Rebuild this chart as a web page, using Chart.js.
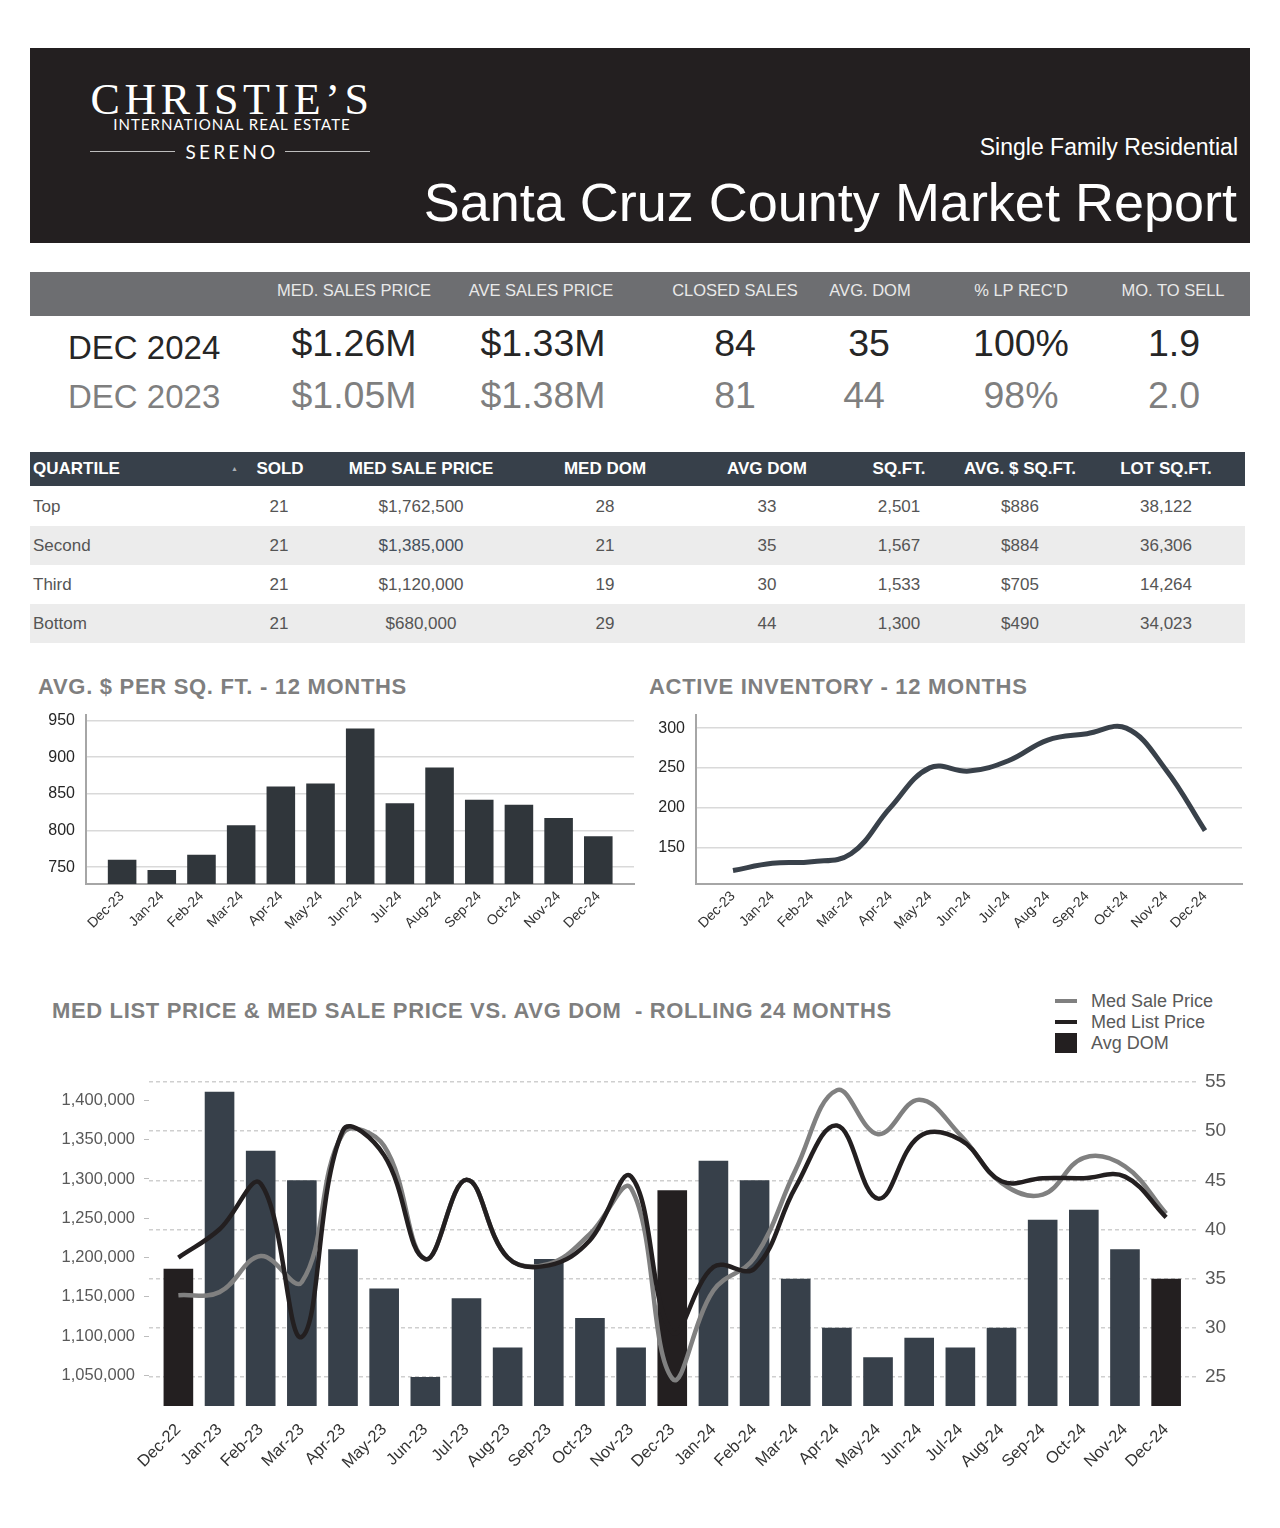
<!DOCTYPE html>
<html lang="en">
<head>
<meta charset="utf-8">
<title>Santa Cruz County Market Report - Dec 2024</title>
<script src="https://cdn.jsdelivr.net/npm/chart.js@4.4.1/dist/chart.umd.min.js"></script>
<style>
  body { margin: 0; width: 1280px; height: 1528px; position: relative; background: #fff;
         font-family: 'Liberation Sans', Arial, sans-serif; overflow: hidden; }
  .t { position: absolute; white-space: nowrap; }
  .c { position: absolute; white-space: nowrap; width: 400px; margin-left: -200px; text-align: center; }
  #header { position: absolute; left: 30px; top: 48px; width: 1220px; height: 195px; background: #231f20; }
  .logo { color: #fff; }
  .rule { position: absolute; height: 1px; background: #bdbdbd; top: 151px; width: 85px; }
  #band1 { position: absolute; left: 30px; top: 272px; width: 1220px; height: 44px; background: #6d6e71; }
  .h1 { font-size: 16.5px; line-height: 16px; color: #e9e9e9; top: 282px; }
  .r1 { font-size: 37.5px; line-height: 36px; color: #262626; top: 325px; }
  .r2 { font-size: 37.5px; line-height: 36px; color: #7f7f7f; top: 377px; }
  #band2 { position: absolute; left: 30px; top: 452px; width: 1215px; height: 34px; background: #37404a; }
  .qh { font-size: 17px; line-height: 17px; font-weight: bold; color: #fff; top: 460px; }
  .qrow { position: absolute; left: 30px; width: 1215px; height: 39px; }
  .qc { font-size: 17px; line-height: 17px; color: #555; }
  .ctitle { font-size: 22px; line-height: 22px; font-weight: bold; color: #7f7f7f; letter-spacing: 0.7px; }
  .lg { font-size: 18px; line-height: 18px; color: #595959; left: 1091px; }
  .sw { position: absolute; left: 1055px; width: 22px; }
  canvas { position: absolute; }
</style>
</head>
<body>

<!-- header -->
<div id="header"></div>
<div class="c logo" style="left:232px; top:78px; font-family:'Liberation Serif',serif; font-size:44px; line-height:44px; letter-spacing:4.6px;">CHRISTIE’S</div>
<div class="c logo" style="left:232px; top:117px; font-family:Lato,sans-serif; font-size:15px; line-height:15px; letter-spacing:1.05px;">INTERNATIONAL REAL ESTATE</div>
<div class="c logo" style="left:232px; top:142px; font-family:Lato,sans-serif; font-size:19px; line-height:19px; letter-spacing:3.2px;">SERENO</div>
<div class="rule" style="left:90px"></div>
<div class="rule" style="left:285px"></div>
<div class="t" style="right:42px; top:136px; font-size:23px; line-height:23px; color:#fff;">Single Family Residential</div>
<div class="t" style="right:43px; top:175px; font-size:54px; line-height:54px; color:#fff;">Santa Cruz County Market Report</div>

<!-- summary -->
<div id="band1"></div>
<div class="c h1" style="left:354px">MED. SALES PRICE</div>
<div class="c h1" style="left:541px">AVE SALES PRICE</div>
<div class="c h1" style="left:735px">CLOSED SALES</div>
<div class="c h1" style="left:870px">AVG. DOM</div>
<div class="c h1" style="left:1021px">% LP REC'D</div>
<div class="c h1" style="left:1173px">MO. TO SELL</div>

<div class="t r1" style="left:68px; font-size:33px; top:330px;">DEC 2024</div>
<div class="c r1" style="left:354px">$1.26M</div>
<div class="c r1" style="left:543px">$1.33M</div>
<div class="c r1" style="left:735px">84</div>
<div class="c r1" style="left:869px">35</div>
<div class="c r1" style="left:1021px">100%</div>
<div class="c r1" style="left:1174px">1.9</div>

<div class="t r2" style="left:68px; font-size:33px; top:379px;">DEC 2023</div>
<div class="c r2" style="left:354px">$1.05M</div>
<div class="c r2" style="left:543px">$1.38M</div>
<div class="c r2" style="left:735px">81</div>
<div class="c r2" style="left:864px">44</div>
<div class="c r2" style="left:1021px">98%</div>
<div class="c r2" style="left:1174px">2.0</div>

<!-- quartile table -->
<div id="band2"></div>
<div class="t qh" style="left:33px">QUARTILE</div>
<div class="t" style="left:231px; top:465px; font-size:7px; color:#aab0b6;">▲</div>
<div class="c qh" style="left:280px">SOLD</div>
<div class="c qh" style="left:421px">MED SALE PRICE</div>
<div class="c qh" style="left:605px">MED DOM</div>
<div class="c qh" style="left:767px">AVG DOM</div>
<div class="c qh" style="left:899px">SQ.FT.</div>
<div class="c qh" style="left:1020px">AVG. $ SQ.FT.</div>
<div class="c qh" style="left:1166px">LOT SQ.FT.</div>
<div id="qtable"></div>

<!-- chart titles and legend -->
<div class="t ctitle" style="left:38px; top:676px;">AVG. $ PER SQ. FT. - 12 MONTHS</div>
<div class="t ctitle" style="left:649px; top:676px;">ACTIVE INVENTORY - 12 MONTHS</div>
<div class="t ctitle" style="left:52px; top:1000px; letter-spacing:0.65px;">MED LIST PRICE &amp; MED SALE PRICE VS. AVG DOM&nbsp; - ROLLING 24 MONTHS</div>
<div id="legend"></div>

<canvas id="ppsfChart" width="610" height="251" style="left:30px; top:694px;"></canvas>
<canvas id="invChart" width="610" height="251" style="left:640px; top:694px;"></canvas>
<canvas id="domChart" width="1220" height="440" style="left:30px; top:1060px;"></canvas>

<script>
// ---- quartile table rows ----
const quartiles = ['Top', 'Second', 'Third', 'Bottom'];
const qSold = ['21', '21', '21', '21'];
const qMedPrice = ['$1,762,500', '$1,385,000', '$1,120,000', '$680,000'];
const qMedDom = ['28', '21', '19', '29'];
const qAvgDom = ['33', '35', '30', '44'];
const qSqft = ['2,501', '1,567', '1,533', '1,300'];
const qPpsf = ['$886', '$884', '$705', '$490'];
const qLot = ['38,122', '36,306', '14,264', '34,023'];

// ---- 12 month charts ----
const months12 = ['Dec-23', 'Jan-24', 'Feb-24', 'Mar-24', 'Apr-24', 'May-24', 'Jun-24',
                  'Jul-24', 'Aug-24', 'Sep-24', 'Oct-24', 'Nov-24', 'Dec-24'];
const ppsf = [760, 746, 767, 807, 860, 864, 939, 837, 886, 842, 835, 817, 792];
const ppsfTicks = [750, 800, 850, 900, 950];
const inventory = [121, 130, 132, 142, 200, 250, 246, 259, 285, 293, 300, 248, 171];
const invTicks = [150, 200, 250, 300];

// ---- rolling 24 months ----
const months24 = ['Dec-22', 'Jan-23', 'Feb-23', 'Mar-23', 'Apr-23', 'May-23', 'Jun-23', 'Jul-23',
                  'Aug-23', 'Sep-23', 'Oct-23', 'Nov-23', 'Dec-23', 'Jan-24', 'Feb-24', 'Mar-24',
                  'Apr-24', 'May-24', 'Jun-24', 'Jul-24', 'Aug-24', 'Sep-24', 'Oct-24', 'Nov-24', 'Dec-24'];
const medSale = [1152000, 1156000, 1202000, 1169000, 1358000, 1342000, 1198000, 1299000, 1200000,
                 1192000, 1230000, 1288000, 1046000, 1158000, 1200000, 1312000, 1413000, 1357000,
                 1401000, 1356000, 1295000, 1280000, 1327000, 1316000, 1256000];
const medList = [1200000, 1236000, 1294000, 1099000, 1362000, 1330000, 1198000, 1299000, 1200000,
                 1190000, 1222000, 1303000, 1105000, 1188000, 1186000, 1290000, 1368000, 1275000,
                 1354000, 1350000, 1297000, 1301000, 1301000, 1303000, 1251000];
const avgDom = [36, 54, 48, 45, 38, 34, 25, 33, 28, 37, 31, 28, 44, 47, 45, 35, 30, 27, 29, 28, 30, 41, 42, 38, 35];
const priceTicks = [1050000, 1100000, 1150000, 1200000, 1250000, 1300000, 1350000, 1400000];
const domTicks = [25, 30, 35, 40, 45, 50, 55];
const seriesNames = ['Med Sale Price', 'Med List Price', 'Avg DOM'];

const DARK = '#231f20';
const SLATE = '#37404a';
const GREY = '#808080';

// build the quartile rows
const qt = document.getElementById('qtable');
const qCols = [qSold, qMedPrice, qMedDom, qAvgDom, qSqft, qPpsf, qLot];
const qCenters = [279, 421, 605, 767, 899, 1020, 1166];
quartiles.forEach((name, r) => {
  const top = 487 + r * 39;
  qt.insertAdjacentHTML('beforeend',
    `<div class="qrow" style="top:${top}px;background:${r % 2 ? '#ececec' : '#fff'}"></div>` +
    `<div class="t qc" style="left:33px;top:${top + 11}px">${name}</div>`);
  qCols.forEach((col, c) => {
    const color = (c === 1 && r === 1) ? '#45505c' : '#555';
    qt.insertAdjacentHTML('beforeend',
      `<div class="c qc" style="left:${qCenters[c]}px;top:${top + 11}px;color:${color}">${col[r]}</div>`);
  });
});

// legend for the big chart
const lg = document.getElementById('legend');
const lgStyle = [
  `top:999px;height:4px;background:${GREY}`,
  `top:1020px;height:4px;background:${DARK}`,
  `top:1033px;height:20px;background:${DARK}`
];
seriesNames.forEach((n, i) => {
  lg.insertAdjacentHTML('beforeend',
    `<div class="sw" style="${lgStyle[i]}"></div>` +
    `<div class="t lg" style="top:${992 + i * 21}px">${n}</div>`);
});

Chart.defaults.font.family = "'Liberation Sans', Arial, sans-serif";
Chart.defaults.animation = false;

// fixed axis sizes so the plot area lands where the report has it
function fixWidth(w) { return (s) => { s.width = w; }; }
function fixHeight(h) { return (s) => { s.height = h; }; }
function tickValues(list) { return (s) => { s.ticks = list.map(v => ({ value: v })); }; }

// shared 12 month x axis (linear so the months sit inset like the original)
function monthAxis(labels, min, max) {
  return {
    type: 'linear', min: min, max: max, offset: false,
    afterBuildTicks: tickValues(labels.map((m, i) => i)),
    afterFit: fixHeight(61),
    grid: { display: true, drawOnChartArea: false, drawTicks: false, offset: false },
    border: { display: true, color: '#a6a6a6', width: 2 },
    ticks: { autoSkip: false, maxRotation: 45, minRotation: 45, padding: 4,
             color: '#333', font: { size: 14 }, callback: (v) => labels[v] }
  };
}
function valueAxis(list, min, max) {
  return {
    min: min, max: max,
    afterBuildTicks: tickValues(list),
    afterFit: fixWidth(56),
    grid: { color: '#d9d9d9', lineWidth: 1.5, drawTicks: false },
    border: { display: true, color: '#a6a6a6', width: 2 },
    ticks: { padding: 11, color: '#262626', font: { size: 16 } }
  };
}

new Chart(document.getElementById('ppsfChart'), {
  type: 'bar',
  data: {
    datasets: [{
      label: 'Avg $ per sq ft',
      data: ppsf.map((v, i) => ({ x: i, y: v })),
      backgroundColor: '#30363b'
    }]
  },
  options: {
    responsive: false,
    layout: { padding: { top: 0, right: 6, left: 0, bottom: 0 } },
    plugins: { legend: { display: false }, tooltip: { enabled: false } },
    scales: {
      x: monthAxis(months12, -0.91, 12.9),
      y: valueAxis(ppsfTicks, 727, 958)
    }
  }
});

new Chart(document.getElementById('invChart'), {
  type: 'line',
  data: {
    datasets: [{
      label: 'Active inventory',
      data: inventory.map((v, i) => ({ x: i, y: v })),
      borderColor: '#39414a',
      borderWidth: 5,
      pointRadius: 0,
      tension: 0.4
    }]
  },
  options: {
    responsive: false,
    layout: { padding: { top: 0, right: 8, left: 0, bottom: 0 } },
    plugins: { legend: { display: false }, tooltip: { enabled: false } },
    scales: {
      x: monthAxis(months12, -0.94, 12.94),
      y: valueAxis(invTicks, 104, 317)
    }
  }
});

new Chart(document.getElementById('domChart'), {
  type: 'bar',
  data: {
    datasets: [
      {
        type: 'line', label: seriesNames[0], yAxisID: 'yL', order: 1,
        data: medSale.map((v, i) => ({ x: i, y: v })),
        borderColor: GREY, borderWidth: 4.5, pointRadius: 0, tension: 0.4
      },
      {
        type: 'line', label: seriesNames[1], yAxisID: 'yL', order: 0,
        data: medList.map((v, i) => ({ x: i, y: v })),
        borderColor: DARK, borderWidth: 4.5, pointRadius: 0, tension: 0.4
      },
      {
        type: 'bar', label: seriesNames[2], yAxisID: 'yR', order: 2,
        data: avgDom.map((v, i) => ({ x: i, y: v })),
        // December bars are the darker ones
        backgroundColor: (ctx) => months24[ctx.dataIndex].startsWith('Dec') ? DARK : SLATE
      }
    ]
  },
  options: {
    responsive: false,
    layout: { padding: { top: 20, right: 0, left: 0, bottom: 0 } },
    plugins: { legend: { display: false }, tooltip: { enabled: false } },
    scales: {
      x: {
        type: 'linear', min: -0.714, max: 24.75, offset: false,
        afterBuildTicks: tickValues(months24.map((m, i) => i)),
        afterFit: fixHeight(94),
        grid: { display: false, offset: false },
        border: { display: false },
        ticks: { autoSkip: false, maxRotation: 45, minRotation: 45, padding: 6,
                 color: '#333', font: { size: 16.5 }, callback: (v) => months24[v] }
      },
      yL: {
        position: 'left', min: 1011000, max: 1426000,
        afterBuildTicks: tickValues(priceTicks),
        afterFit: fixWidth(119),
        grid: { drawOnChartArea: false, drawTicks: true, tickLength: 5, color: '#bdbdbd' },
        border: { display: false },
        ticks: { padding: 9, color: '#595959', font: { size: 16.5 },
                 callback: (v) => v.toLocaleString('en-US') }
      },
      yR: {
        position: 'right', min: 22.05, max: 55.2,
        afterBuildTicks: tickValues(domTicks),
        afterFit: fixWidth(53),
        grid: { color: '#cfcfcf', lineWidth: 1.5, drawTicks: false },
        border: { display: false, dash: [4, 3] },
        ticks: { padding: 8, color: '#595959', font: { size: 19 } }
      }
    }
  }
});
</script>
</body>
</html>
